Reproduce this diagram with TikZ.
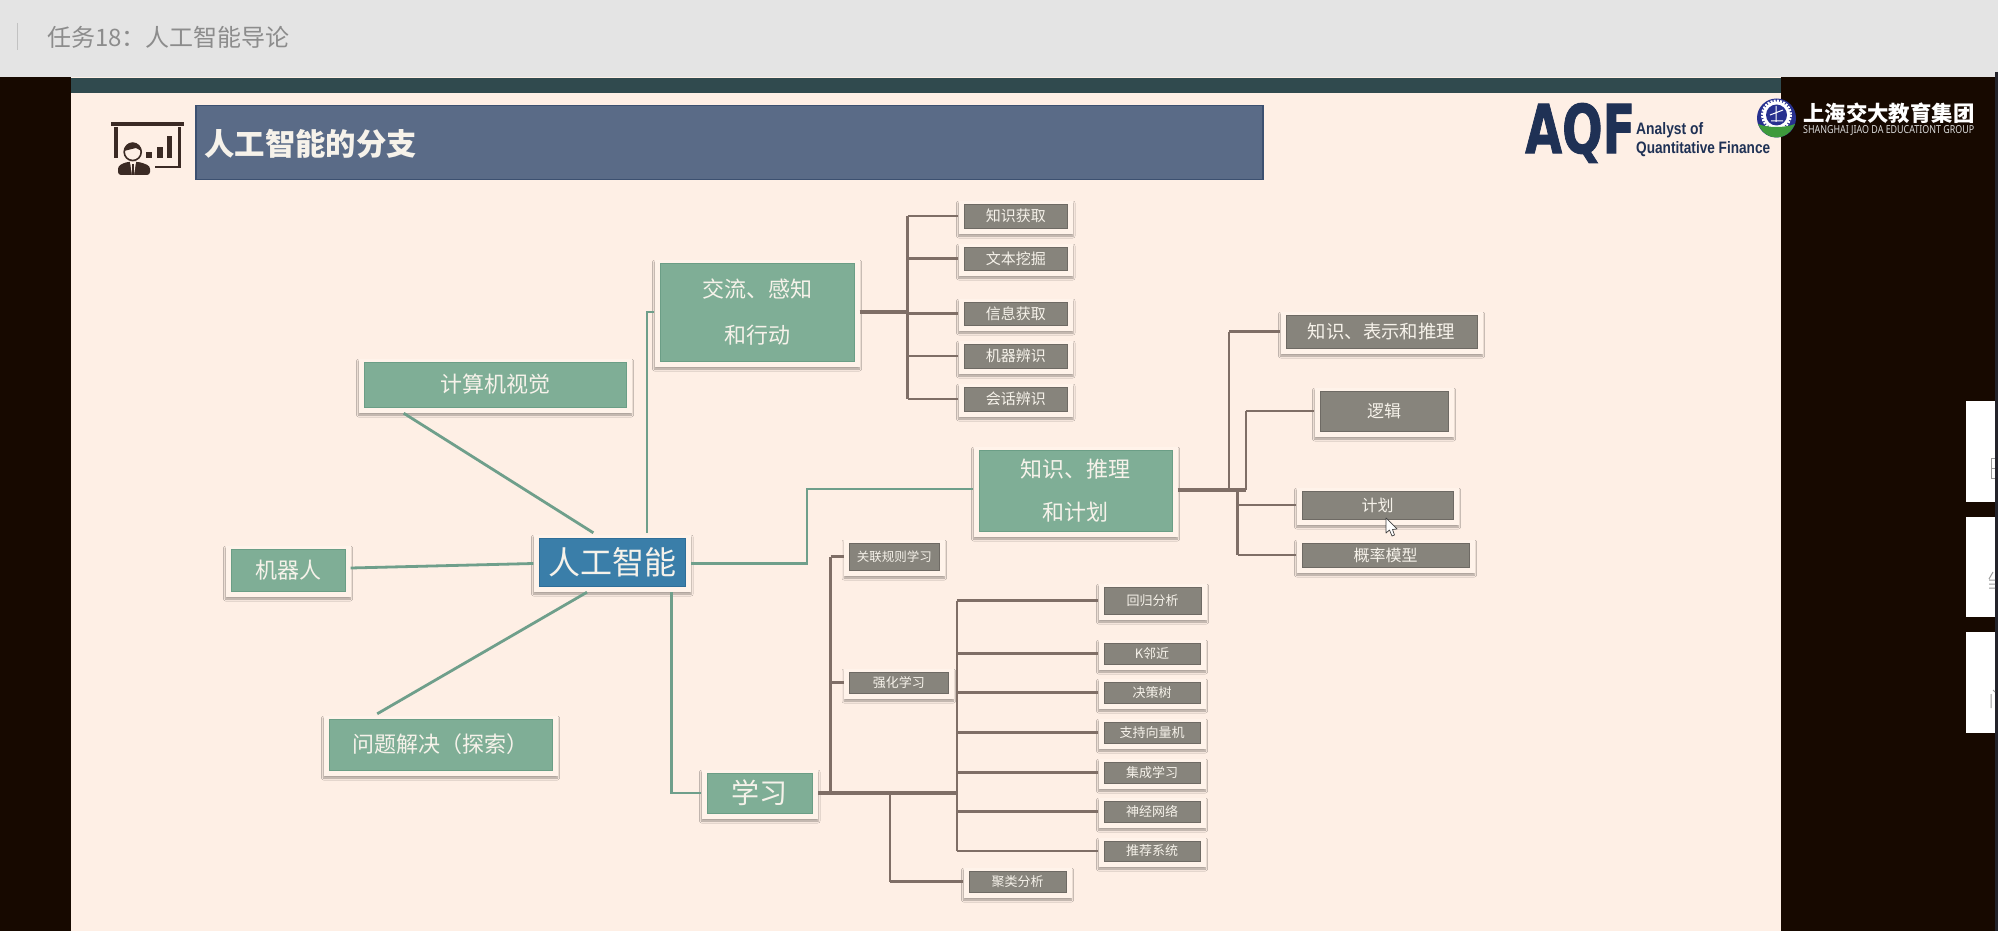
\documentclass[tikz,border=0pt]{standalone}
\usepackage{fontspec}
\usepackage{graphicx}
\setmainfont{Noto Sans CJK SC}
\newfontfamily\latinb{Liberation Sans}
\newfontfamily\latinn{Noto Sans}
\newfontfamily\aqffont[FakeBold=1.5]{DejaVu Sans Bold}
\usetikzlibrary{calc,shadows.blur}
\definecolor{slidebg}{HTML}{FEEFE5}
\definecolor{blackbg}{HTML}{170900}
\definecolor{topgray}{HTML}{E4E4E4}
\definecolor{edgec}{HTML}{23232B}
\definecolor{bandc}{HTML}{304A4E}
\definecolor{titlec}{HTML}{5A6B87}
\definecolor{titleb}{HTML}{3C5070}
\definecolor{greenf}{HTML}{7FAE96}
\definecolor{greenb}{HTML}{6B9E86}
\definecolor{grayf}{HTML}{87847C}
\definecolor{grayb}{HTML}{6E6A64}
\definecolor{bluef}{HTML}{3A7EA9}
\definecolor{blueb}{HTML}{2F6E98}
\definecolor{framec}{HTML}{FFF3EA}
\definecolor{greenl}{HTML}{6F9F8B}
\definecolor{brownl}{HTML}{7F6E66}
\definecolor{textc}{HTML}{F6F2EA}
\definecolor{iconc}{HTML}{3B2A24}
\definecolor{aqfc}{HTML}{1F3155}
\definecolor{sjblue}{HTML}{27308F}
\definecolor{sjgreen}{HTML}{3E9A3C}
\definecolor{glyphc}{HTML}{9A9A9A}
\tikzset{
  framebox/.style={fill=framec,inner sep=0pt,blur shadow={shadow xshift=0pt,shadow yshift=-2pt,shadow blur steps=5,shadow blur radius=2pt,shadow opacity=35}},
  ingreen/.style={fill=greenf,draw=greenb,line width=.8pt,text=textc},
  ingray/.style={fill=grayf,draw=grayb,line width=.8pt,text=textc},
  inblue/.style={fill=bluef,draw=blueb,line width=.8pt,text=textc},
  gline/.style={draw=greenl,line width=2.8pt,line cap=butt,line join=miter},
  bline/.style={draw=brownl,line width=2.8pt,line cap=square,line join=miter},
  bthick/.style={draw=brownl,line width=3.8pt},
  plain/.style={inner sep=0pt},
}
% name, style, inner x1, y1, x2, y2, font size, text
\newcommand{\mapbox}[8]{%
  \pgfmathsetmacro{\cxx}{(#3+#5)/2}%
  \pgfmathsetmacro{\cyy}{(#4+#6)/2}%
  \pgfmathsetmacro{\www}{#5-#3}%
  \pgfmathsetmacro{\hhh}{#6-#4}%
  \pgfmathsetmacro{\wwo}{#5-#3+11}%
  \pgfmathsetmacro{\hho}{#6-#4+9}%
  \pgfmathsetmacro{\cyo}{(#4+#6)/2+1.5}%
  \node[framebox,minimum width=\wwo pt,minimum height=\hho pt] (#1) at (\cxx,\cyo) {};
  \node[#2,inner sep=0pt,minimum width=\www pt,minimum height=\hhh pt,align=center,
        font=\fontsize{#7}{#7}\selectfont] (#1-in) at (\cxx,\cyy) {#8};
}
\begin{document}
\begin{tikzpicture}[x=1pt,y=-1pt]
\useasboundingbox (0,0) rectangle (1998,931);
% backdrop
\fill[topgray] (0,0) rectangle (1998,77);
\fill[blackbg] (0,77) rectangle (1995,931);
\fill[slidebg] (71,77) rectangle (1781,931);
\fill[bandc] (71,78) rectangle (1781,93);
\fill[edgec] (1995,72) rectangle (1998,931);
\draw[topgray!85!black,line width=.8pt] (17,23) -- (17,50);
\node[plain,anchor=west,text=black!45,font=\fontsize{24}{24}\selectfont] (tab) at (47,37) {任务18：人工智能导论};
% title
\node[fill=titlec,draw=titleb,line width=1.2pt,minimum width=1067pt,minimum height=74pt,inner sep=0pt] (titlebar) at (729.5,142.5) {};
\node[plain,anchor=west,text=textc,font=\fontsize{30.4}{30.4}\selectfont\bfseries] (titletext) at (204,144) {人工智能的分支};
% presenter icon
\fill[iconc] (111,122) rectangle (184,126.5);
\fill[iconc] (114,127) rectangle (117.5,158);
\fill[iconc] (177.5,127) rectangle (181,168.5);
\fill[iconc] (155,166) rectangle (181,168.5);
\fill[iconc] (146,152) rectangle (152,158);
\fill[iconc] (157,147) rectangle (163,158);
\fill[iconc] (167,136) rectangle (172,158);
\draw[iconc,line width=1.6pt,fill=slidebg] (132.7,152) circle[radius=8.5];
\fill[iconc] (124,151) arc[start angle=180,end angle=360,radius=8.7] -- (136,148) -- cycle;
\fill[iconc,rounded corners=3pt] (118,175) -- (118,166) -- (126,162) -- (140,162) -- (150,166) -- (150,175) -- cycle;
\fill[slidebg] (130,162) -- (136,162) -- (134,175) -- (132,175) -- cycle;
\fill[iconc] (132,164) rectangle (134,175);
% AQF logo
\node[plain,anchor=west,text=aqfc,font=\fontsize{69}{69}\aqffont] (aqf) at (1525,133) {\resizebox{110pt}{50pt}{AQF}};
\node[plain,anchor=west,text=aqfc,font=\fontsize{14}{14}\latinb\bfseries] (aqf1) at (1636,130) {\resizebox{67pt}{12pt}{Analyst of}};
\node[plain,anchor=west,text=aqfc,font=\fontsize{14}{14}\latinb\bfseries] (aqf2) at (1636,149) {\resizebox{134pt}{12pt}{Quantitative Finance}};
% school logo
\fill[sjblue] (1776.5,118) circle[radius=19.5];
\draw[white,line width=2.5pt,dash pattern=on 2pt off 1.2pt] (1776.5,115) circle[radius=14.2];
\fill[white] (1776.5,115) circle[radius=13.5];
\fill[sjblue] (1776.5,115) circle[radius=10.5];
\draw[white,line width=1pt] (1770,115) -- (1783,110) (1776,106) -- (1776,122) (1771,121) -- (1783,121);
\fill[sjgreen] (1758,124) .. controls (1768,128) and (1785,128) .. (1795,124) .. controls (1791,133) and (1784,137.5) .. (1776.5,137.5) .. controls (1769,137.5) and (1762,133) .. (1758,124) -- cycle;
\node[plain,anchor=west,text=white,font=\fontsize{21.4}{21.4}\selectfont\bfseries] (sj1) at (1803,113) {上海交大教育集团};
\node[plain,anchor=west,text=white!85!black,font=\fontsize{9}{9}\latinn] (sj2) at (1803,131) {\resizebox{171pt}{8pt}{SHANGHAI JIAO DA EDUCATIONT GROUP}};
% right white panels and the cut-off marks on them
\fill[white] (1966,401) rectangle (1995,502);
\fill[white] (1966,517) rectangle (1995,617);
\fill[white] (1966,632) rectangle (1995,733);
\draw[glyphc,line width=1pt] (1995,458.5) -- (1991,458.5) -- (1991,478) -- (1995,478) (1991,468) -- (1995,468);
\draw[glyphc,line width=1pt] (1993,572) -- (1989,579) (1989,580) -- (1995,580) (1989,584) -- (1995,584) (1989,588) -- (1995,588);
\draw[glyphc,line width=1pt] (1991,694) -- (1991,708) (1993,690) -- (1995,692);
% boxes
\mapbox{ai}{inblue}{539}{538}{685.6}{586}{32}{人工智能}
\mapbox{cv}{ingreen}{364}{362}{626}{407}{22}{计算机视觉}
\mapbox{rb}{ingreen}{231}{549}{345}{591}{22}{机器人}
\mapbox{ps}{ingreen}{329}{719}{552}{770}{22}{问题解决（探索）}
\mapbox{jl}{ingreen}{660}{263}{854}{361}{22}{交流、感知\\[24pt]和行动}
\mapbox{kp}{ingreen}{979}{450}{1172}{531}{22}{知识、推理\\[21pt]和计划}
\mapbox{xx}{ingreen}{707}{773}{812.5}{813}{28}{学习}
\mapbox{a1}{ingray}{964}{204}{1067.5}{228}{15}{知识获取}
\mapbox{a2}{ingray}{964}{247}{1067.5}{270}{15}{文本挖掘}
\mapbox{a3}{ingray}{964}{302}{1067.5}{325}{15}{信息获取}
\mapbox{a4}{ingray}{964}{344}{1067.5}{368}{15}{机器辨识}
\mapbox{a5}{ingray}{964}{387}{1067.5}{411}{15}{会话辨识}
\mapbox{k1}{ingray}{1286}{315}{1477}{348}{18.4}{知识、表示和推理}
\mapbox{k2}{ingray}{1320}{391}{1448}{431}{17}{逻辑}
\mapbox{k3}{ingray}{1302}{491}{1453}{519}{16}{计划}
\mapbox{k4}{ingray}{1302}{543}{1469}{567}{16}{概率模型}
\mapbox{l1}{ingray}{849.5}{543}{939}{570}{12.5}{关联规则学习}
\mapbox{l2}{ingray}{849.5}{672}{948}{693}{13}{强化学习}
\mapbox{m1}{ingray}{1104}{587}{1201}{614}{13}{回归分析}
\mapbox{m2}{ingray}{1104}{643}{1200}{664}{13}{K邻近}
\mapbox{m3}{ingray}{1104}{682}{1200}{703}{13}{决策树}
\mapbox{m4}{ingray}{1104}{722}{1200}{743}{13}{支持向量机}
\mapbox{m5}{ingray}{1104}{762}{1200}{783}{13}{集成学习}
\mapbox{m6}{ingray}{1104}{801}{1200}{822}{13}{神经网络}
\mapbox{m7}{ingray}{1104}{841}{1200}{861}{13}{推荐系统}
\mapbox{l3}{ingray}{969}{871}{1066}{892}{13}{聚类分析}
% junctions
\coordinate (jA) at (907.5,312);
\coordinate (jK) at (807,489);
\coordinate (jP) at (1229,490);
\coordinate (jQ) at (1246,490);
\coordinate (jR) at (1237.5,490);
\coordinate (jL) at (830.5,793);
\coordinate (jM) at (957,793);
\coordinate (jN) at (890,793);
% green connectors
\draw[gline] ($(cv.south west)!.166!(cv.south east)$) -- ($(ai.north west)!.38!(ai.north east)+(0,-2)$);
\draw[gline] (rb.east |- 350,568) -- (ai.west);
\draw[gline] ($(ps.north west)!.23!(ps.north east)+(0,-2)$) -- ($(ai.south west)!.34!(ai.south east)$);
\draw[gline] ($(ai.north west)!.72!(ai.north east)+(0,-2)$) |- (jl-in -| jl.west);
\draw[gline] ($(ai.south west)!.873!(ai.south east)$) |- (xx-in -| xx.west);
\draw[gline] (ai.east) -| (jK) -- (jK -| kp.west);
% brown connectors: communication branch
\draw[bthick] (jA -| jl.east) -- (jA);
\draw[bline] (jA |- a1-in) -- (jA |- a5-in);
\foreach \n in {a1,a2,a3,a4,a5} \draw[bline,line cap=butt] (jA |- \n-in) -- (\n-in -| \n.west);
% knowledge branch
\draw[bthick] (jP -| kp.east) -- (jQ);
\draw[bline] (jP |- k1-in) -- (jP);
\draw[bline,line cap=butt] (jP |- k1-in) -- (k1-in -| k1.west);
\draw[bline] (jQ |- k2-in) -- (jQ);
\draw[bline,line cap=butt] (jQ |- k2-in) -- (k2-in -| k2.west);
\draw[bline] (jR) -- (jR |- k4-in);
\draw[bline,line cap=butt] (jR |- k3-in) -- (k3-in -| k3.west);
\draw[bline,line cap=butt] (jR |- k4-in) -- (k4-in -| k4.west);
% learning branch
\draw[bthick] (jL -| xx.east) -- (jM);
\draw[bline] (jL |- l1-in) -- (jL);
\foreach \n in {l1,l2} \draw[bline,line cap=butt] (jL |- \n-in) -- (\n-in -| \n.west);
\draw[bline] (jM |- m1-in) -- (jM |- m7-in);
\foreach \n in {m1,m2,m3,m4,m5,m6,m7} \draw[bline,line cap=butt] (jM |- \n-in) -- (\n-in -| \n.west);
\draw[bline] (jN) -- (jN |- l3-in);
\draw[bline,line cap=butt] (jN |- l3-in) -- (l3-in -| l3.west);
% cursor
\draw[black!75,fill=white,line width=.7pt,line join=round] (1386,518) -- (1386,533) -- (1389.5,530) -- (1392,536) -- (1394.5,535) -- (1392.5,529.5) -- (1397,529) -- cycle;
\end{tikzpicture}
\end{document}
